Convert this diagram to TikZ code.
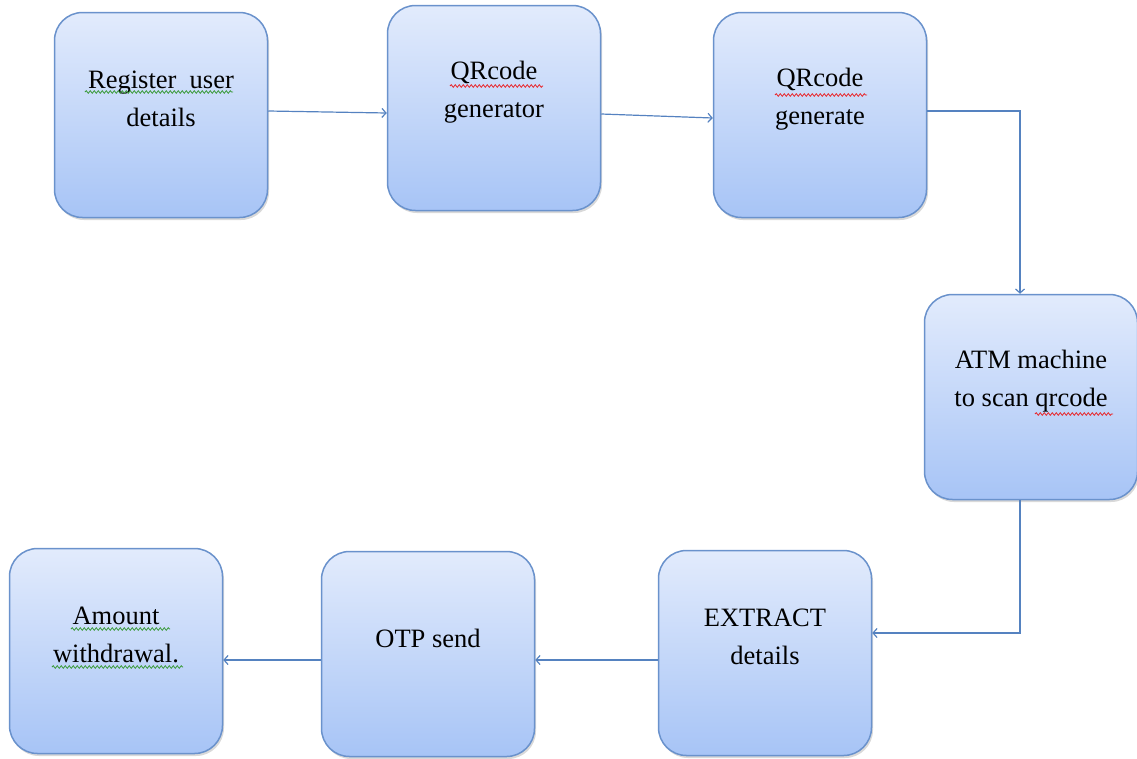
\documentclass[tikz,border=0pt]{standalone}
\usepackage{fontspec}
\setmainfont{Liberation Serif}
\usetikzlibrary{shadows,arrows.meta,decorations.pathmorphing}
\definecolor{boxtop}{HTML}{E2EBFC}
\definecolor{boxbot}{HTML}{A7C4F6}
\definecolor{boxline}{HTML}{6A92CC}
\definecolor{flowline}{HTML}{5582C0}
\definecolor{spellred}{HTML}{E8262A}
\definecolor{spellgreen}{HTML}{3A9A3A}
\tikzset{
  flowbox/.style={draw=boxline, line width=1.5pt, rounded corners=28pt,
    top color=boxtop, bottom color=boxbot,
    minimum width=213pt, minimum height=205pt,
    drop shadow={shadow xshift=1.5pt, shadow yshift=-2.5pt, opacity=0.3},
    label={[boxtext]center:{#1}}},
  boxtext/.style={align=center, font=\fontsize{26.5}{37.5}\selectfont, yshift=16pt, text=black},
  flow/.style={draw=flowline, line width=1.2pt, -{Straight Barb[length=4pt,width=9pt]}},
  spellwave/.style={draw=#1, line width=0.8pt, decorate,
    decoration={snake, segment length=4pt, amplitude=1.3pt}}
}
\begin{document}
\begin{tikzpicture}[x=1pt, y=-1pt]
  \useasboundingbox (0,0) rectangle (1137,758);
  % top row
  \node[flowbox={Register\ \ user\\details}] (reg) at (161,115) {};
  \node[flowbox={QRcode\\generator}] (gen) at (494,108) {};
  \node[flowbox={QRcode\\generate}] (gte) at (820,115) {};
  % right side
  \node[flowbox={ATM machine\\to scan qrcode}] (atm) at (1031,397) {};
  % bottom row
  \node[flowbox={EXTRACT\\details}] (ext) at (765,653) {};
  \node[flowbox={OTP send}] (otp) at (428,654) {};
  \node[flowbox={Amount\\withdrawal.}] (amt) at (116,651) {};

  % spell check marks
  \draw[spellwave=spellgreen] ([shift={(-76,-23)}]reg.center) -- ++(148,0);
  \draw[spellwave=spellred] ([shift={(-44,-22)}]gen.center) -- ++(93,0);
  \draw[spellwave=spellred] ([shift={(-45,-20)}]gte.center) -- ++(92,0);
  \draw[spellwave=spellred] ([shift={(4,17)}]atm.center) -- ++(78,0);
  \draw[spellwave=spellgreen] ([shift={(-45,-22)}]amt.center) -- ++(99,0);
  \draw[spellwave=spellgreen] ([shift={(-64,16)}]amt.center) -- ++(131,0);

  \draw[flow] ([yshift=4pt]reg.east) -- ([yshift=-5pt]gen.west);
  \draw[flow] ([yshift=-6pt]gen.east) -- ([yshift=-3pt]gte.west);
  \draw[flow] ([yshift=4pt]gte.east) -| ([xshift=-11pt]atm.north);
  \draw[flow] ([xshift=-11pt]atm.south) |- ([yshift=20pt]ext.east);
  \draw[flow] ([yshift=-7pt]ext.west) -- ([yshift=-6pt]otp.east);
  \draw[flow] ([yshift=-6pt]otp.west) -- ([yshift=-9pt]amt.east);
\end{tikzpicture}
\end{document}
